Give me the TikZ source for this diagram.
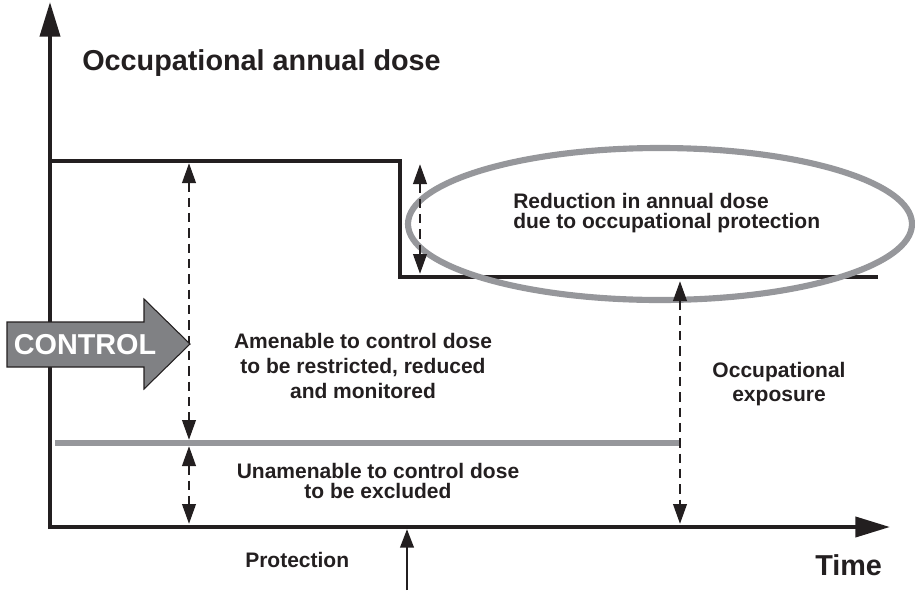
\documentclass[tikz,border=0pt]{standalone}
\usepackage{fontspec}
\setmainfont{Liberation Sans}
\usetikzlibrary{arrows.meta}
\definecolor{ink}{RGB}{35,31,32}
\definecolor{lgray}{RGB}{150,151,155}
\definecolor{agray}{RGB}{128,129,132}
\begin{document}
\begin{tikzpicture}[x=0.75pt,y=-0.75pt,
  axis/.style={ink, line width=3pt, -{Triangle[length=26pt,width=15pt]}},
  stepline/.style={ink, line width=3.4pt, line join=miter},
  grayline/.style={lgray, line width=4.6pt},
  dimarrow/.style={ink, line width=2.2pt, dash pattern=on 7pt off 4.5pt,
    {Triangle[length=15pt,width=10pt]}-{Triangle[length=15pt,width=10pt]}},
  protarrow/.style={ink, line width=2.2pt, -{Triangle[length=14pt,width=10pt]}},
  lbl/.style={font=\bfseries\fontsize{15.75}{18.9}\selectfont, text=ink, inner sep=0pt},
  biglbl/.style={font=\bfseries\fontsize{21.6}{26}\selectfont, text=ink, inner sep=0pt}]
\useasboundingbox (0,0) rectangle (915,590);

% coordinates
\coordinate (ybot) at (50,529);
\coordinate (ytop) at (50,2);
\coordinate (xleft) at (48,527);
\coordinate (xright) at (890,527);
\coordinate (s0) at (52,161);
\coordinate (s1) at (400,161);
\coordinate (s2) at (400,277);
\coordinate (s3) at (878,277);
\coordinate (a1) at (420,164);
\coordinate (a2) at (420,274);
\coordinate (g0) at (55,443);
\coordinate (g1) at (681,443);
\coordinate (b1) at (189,163);
\coordinate (b2) at (189,440);
\coordinate (c1) at (189,446);
\coordinate (c2) at (189,524);
\coordinate (d1) at (680,281);
\coordinate (d2) at (680,524);
\coordinate (p0) at (407,590);
\coordinate (p1) at (407,529);
\coordinate (ec) at (660,224);

% axes
\draw[axis] (ybot) -- (ytop);
\draw[axis] (xleft) -- (xright);

% step line
\draw[stepline] (s0) -- (s1) -- (s2) -- (s3);

% gray line
\draw[grayline] (g0) -- (g1);

% ellipse
\draw[lgray, line width=4.6pt] (ec) ellipse [x radius=252, y radius=76];

% dimension arrows
\draw[dimarrow] (a1) -- (a2);
\draw[dimarrow] (b1) -- (b2);
\draw[dimarrow] (c1) -- (c2);
\draw[dimarrow] (d1) -- (d2);

% protection arrow
\draw[protarrow] (p0) -- (p1);

% CONTROL arrow
\draw[ink, fill=agray, line width=0.8pt, line join=miter]
  (7,322) -- (144,322) -- (144,299) -- (190,344) -- (144,389) -- (144,367) -- (7,367) -- cycle;
\node[font=\bfseries\fontsize{21.6}{25}\selectfont, text=white, inner sep=0pt, anchor=base] (ctrl) at (85,354) {CONTROL};

% labels
\node[biglbl, anchor=base west] (title) at (82,70) {Occupational annual dose};
\node[biglbl, anchor=base west] (time) at (815,575) {Time};
\node[lbl, anchor=base west] (prot) at (245,567) {Protection};
\node[lbl, align=left, anchor=west, font=\bfseries\fontsize{15.75}{14.8}\selectfont] (red) at (513,213)
  {Reduction in annual dose\\due to occupational protection};
\node[lbl, align=center, font=\bfseries\fontsize{15.75}{18.75}\selectfont] (amen) at (363,366)
  {Amenable to control dose\\to be restricted, reduced\\and monitored};
\node[lbl, align=center, font=\bfseries\fontsize{15.75}{18}\selectfont] (occ) at (779,384)
  {Occupational\\exposure};
\node[lbl, align=center, font=\bfseries\fontsize{15.75}{15.5}\selectfont] (unam) at (378,481)
  {Unamenable to control dose\\to be excluded};
\end{tikzpicture}
\end{document}
